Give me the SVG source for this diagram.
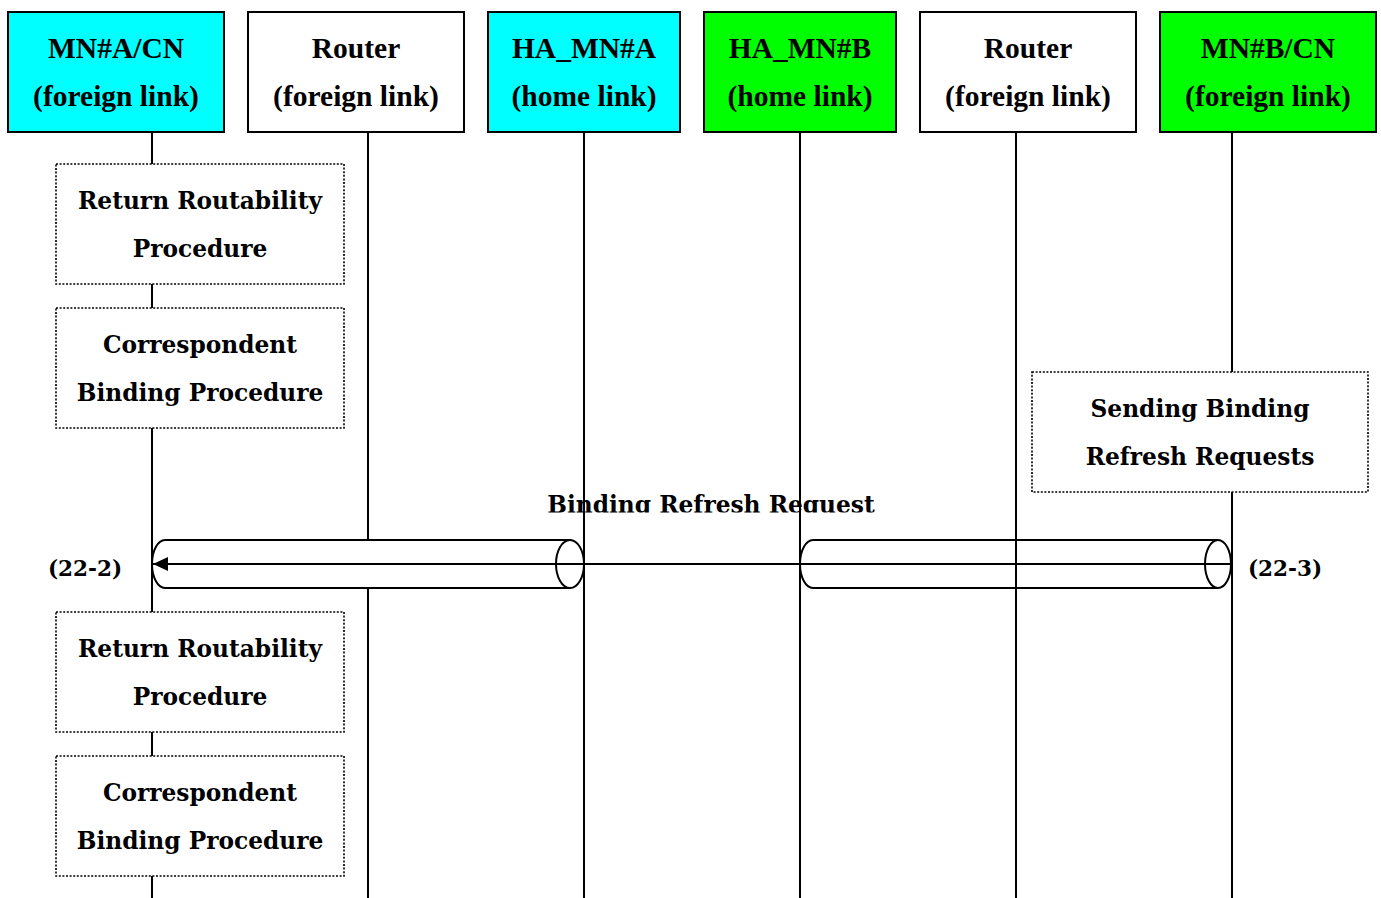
<svg xmlns="http://www.w3.org/2000/svg" width="1381" height="898" viewBox="0 0 1381 898">
<style>
.hdr{stroke:#000;stroke-width:2}
.ht{font-family:"Liberation Serif",serif;font-weight:bold;font-size:29.5px;text-anchor:middle;fill:#000}
.pt{font-family:"DejaVu Serif",serif;font-weight:bold;font-size:23.3px;text-anchor:middle;fill:#000}
.lt{font-family:"DejaVu Serif",serif;font-weight:bold;font-size:21.5px;text-anchor:middle;fill:#000}
.life{stroke:#000;stroke-width:2;fill:none}
.proc{fill:#fff;stroke:#000;stroke-width:1.6;stroke-dasharray:2 1.6}
.tun{stroke:#000;stroke-width:2}
</style>
<defs>
<marker id="ah" markerWidth="16" markerHeight="14" refX="15" refY="7" orient="auto" markerUnits="userSpaceOnUse">
<path d="M0,0 L15,7 L0,14 Z" fill="#000"/>
</marker>
<clipPath id="clipLbl"><rect x="0" y="470" width="1381" height="42.5"/></clipPath>
</defs>
<rect width="1381" height="898" fill="#fff"/>
<g id="lifelines">
<line class="life" x1="152" y1="132" x2="152" y2="898"/>
<line class="life" x1="368" y1="132" x2="368" y2="898"/>
<line class="life" x1="584" y1="132" x2="584" y2="898"/>
<line class="life" x1="800" y1="132" x2="800" y2="898"/>
<line class="life" x1="1016" y1="132" x2="1016" y2="898"/>
<line class="life" x1="1232" y1="132" x2="1232" y2="898"/>
</g>
<g id="node-mna">
<rect class="hdr" x="8" y="12" width="216" height="120" fill="#00ffff"/>
<text class="ht" x="116" y="58">MN#A/CN</text>
<text class="ht" x="116" y="106">(foreign link)</text>
</g>
<g id="node-router1">
<rect class="hdr" x="248" y="12" width="216" height="120" fill="#fff"/>
<text class="ht" x="356" y="58">Router</text>
<text class="ht" x="356" y="106">(foreign link)</text>
</g>
<g id="node-ha-a">
<rect class="hdr" x="488" y="12" width="192" height="120" fill="#00ffff"/>
<text class="ht" x="584" y="58">HA_MN#A</text>
<text class="ht" x="584" y="106">(home link)</text>
</g>
<g id="node-ha-b">
<rect class="hdr" x="704" y="12" width="192" height="120" fill="#00ff00"/>
<text class="ht" x="800" y="58">HA_MN#B</text>
<text class="ht" x="800" y="106">(home link)</text>
</g>
<g id="node-router2">
<rect class="hdr" x="920" y="12" width="216" height="120" fill="#fff"/>
<text class="ht" x="1028" y="58">Router</text>
<text class="ht" x="1028" y="106">(foreign link)</text>
</g>
<g id="node-mnb">
<rect class="hdr" x="1160" y="12" width="216" height="120" fill="#00ff00"/>
<text class="ht" x="1268" y="58">MN#B/CN</text>
<text class="ht" x="1268" y="106">(foreign link)</text>
</g>
<g id="proc-rr1">
<rect class="proc" x="56" y="164" width="288" height="120"/>
<text class="pt" x="200" y="209">Return Routability</text>
<text class="pt" x="200" y="257">Procedure</text>
</g>
<g id="proc-cb1">
<rect class="proc" x="56" y="308" width="288" height="120"/>
<text class="pt" x="200" y="353">Correspondent</text>
<text class="pt" x="200" y="401">Binding Procedure</text>
</g>
<g id="proc-rr2">
<rect class="proc" x="56" y="612" width="288" height="120"/>
<text class="pt" x="200" y="657">Return Routability</text>
<text class="pt" x="200" y="705">Procedure</text>
</g>
<g id="proc-cb2">
<rect class="proc" x="56" y="756" width="288" height="120"/>
<text class="pt" x="200" y="801">Correspondent</text>
<text class="pt" x="200" y="849">Binding Procedure</text>
</g>
<g id="proc-sbr">
<rect class="proc" x="1032" y="372" width="336" height="120"/>
<text class="pt" x="1200" y="417">Sending Binding</text>
<text class="pt" x="1200" y="465">Refresh Requests</text>
</g>
<g id="connectors">
<path class="tun" d="M570,540 H165 A13,24 0 0 0 165,588 H570 Z" fill="#fff"/>
<ellipse class="tun" cx="570" cy="564" rx="14" ry="24" fill="#fff"/>
<path class="tun" d="M1218,540 H813 A13,24 0 0 0 813,588 H1218" fill="none"/>
<ellipse class="tun" cx="1218" cy="564" rx="13" ry="24" fill="none"/>
<line x1="1232" y1="564" x2="153" y2="564" stroke="#000" stroke-width="2" marker-end="url(#ah)"/>
<line class="life" x1="584" y1="530" x2="584" y2="598"/>
<text class="pt" x="711" y="513" font-size="23.6" clip-path="url(#clipLbl)">Binding Refresh Request</text>
</g>
<text class="lt" x="85" y="576">(22-2)</text>
<text class="lt" x="1285" y="576">(22-3)</text>
</svg>
